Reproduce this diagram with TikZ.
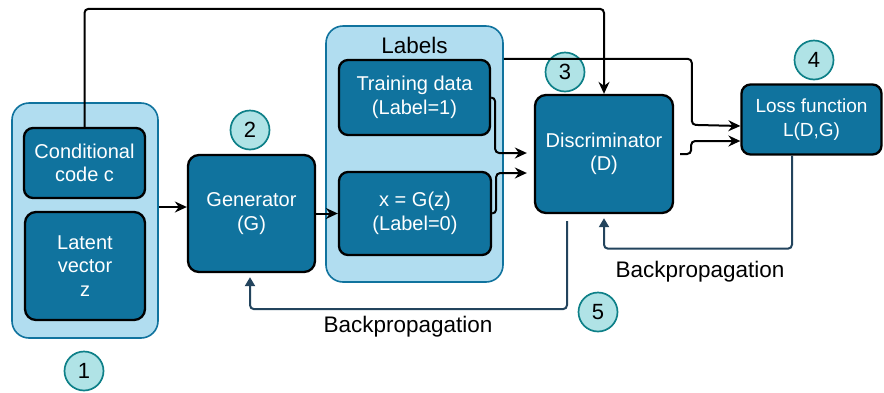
\documentclass[tikz,border=0pt]{standalone}
\usepackage{fontspec}
\setmainfont{Liberation Sans}
\usepackage{xcolor}
\usepackage{tikz}
\usetikzlibrary{arrows.meta}
\usetikzlibrary{calc}

\definecolor{boxblue}{HTML}{10739E}
\definecolor{grpfill}{HTML}{B1DDF0}
\definecolor{badgefill}{HTML}{B0E3E6}
\definecolor{badgeedge}{HTML}{0E8088}
\definecolor{backblue}{HTML}{23445D}

\tikzset{
  block/.style={rectangle, rounded corners=11pt, draw=black, line width=2.3pt,
    fill=boxblue, text=white, align=center,
    font=\fontsize{20}{23.5}\selectfont, inner sep=0pt},
  group/.style={rectangle, rounded corners=17pt, draw=boxblue, line width=1.6pt,
    fill=grpfill, inner sep=0pt},
  badge/.style={circle, draw=badgeedge, fill=badgefill, line width=1.7pt,
    minimum size=39pt, inner sep=0pt, font=\fontsize{22}{22}\selectfont},
  flow/.style={-{Stealth[length=12pt, width=11pt, inset=4pt]}, line width=2pt,
    rounded corners=4pt},
  backflow/.style={-{Triangle[length=9pt, width=10pt]}, line width=2pt,
    draw=backblue, rounded corners=4pt},
  caption/.style={font=\fontsize{22.5}{22.5}\selectfont}
}

\begin{document}
\begin{tikzpicture}[x=1pt, y=-1pt]
    \useasboundingbox (0,0) rectangle (884,392);

    % Input group
    \node[group, minimum width=146pt, minimum height=235pt] (ingrp) at (85,220.5) {};
    \node[block, rounded corners=9pt, minimum width=121pt, minimum height=70pt] (cond) at (84.5,163) {Conditional\\code c};
    \node[block, minimum width=120pt, minimum height=108pt] (latent) at (85,266) {Latent\\vector\\z};

    % Generator
    \node[block, minimum width=127pt, minimum height=117pt] (gen) at (251.5,213.5) {Generator\\(G)};

    % Labels group
    \node[group, minimum width=177pt, minimum height=256pt] (labgrp) at (414.5,154) {};
    \node[caption] (labtxt) at (414.5,45) {Labels};
    \node[block, rounded corners=9pt, minimum width=151pt, minimum height=75pt] (train) at (414.5,97.5) {Training data\\(Label=1)};
    \node[block, rounded corners=9pt, minimum width=152pt, minimum height=83pt] (fake) at (415,213.5) {x = G(z)\\(Label=0)};

    % Discriminator and loss
    \node[block, minimum width=138pt, minimum height=118pt] (disc) at (604,154) {Discriminator\\(D)};
    \node[block, rounded corners=9pt, minimum width=140pt, minimum height=70pt,
      font=\fontsize{19}{23.5}\selectfont] (loss) at (811.5,119.5) {Loss function\\L(D,G)};

    % Step numbers
    \node[badge] (b1) at (84,371) {1};
    \node[badge] (b2) at (250,130) {2};
    \node[badge] (b3) at (565,72) {3};
    \node[badge] (b4) at (814,60) {4};
    \node[badge] (b5) at (598,312) {5};

    % Forward connections
    \coordinate (gin) at ($(gen.west)+(0,-6.5)$);
    \draw[flow] (ingrp.east |- gin) -- (gin);
    \draw[flow] (gen.east) -- (fake.west);
    \draw[flow] (cond.north) -- ++(0,-118) -| (disc.north);
    \draw[flow] (train.east) -- ++(4,0) |- ($(disc.west)+(-7,-1)$);
    \draw[flow] (fake.east) -- ++(4,0) |- ($(disc.west)+(-7,19)$);
    \draw[flow] (labgrp.east |- train.north) -| ++(188,66) -- ($(loss.west)+(0,6.5)$);
    \draw[flow] ($(disc.east)+(6,0)$) -- ++(11,0) |- ($(loss.west)+(0,21.5)$);

    % Backpropagation
    \draw[backflow] ($(loss.south)+(-19.5,0)$) -- ++(0,93) -| ($(disc.south)+(0,4)$);
    \node[caption] (bp1) at (700,272) {Backpropagation};
    \draw[backflow] ($(disc.south)+(-37,7)$) -- ++(0,88) -| ($(gen.south)+(-1.5,4)$);
    \node[caption] (bp2) at (408,327) {Backpropagation};
\end{tikzpicture}
\end{document}
